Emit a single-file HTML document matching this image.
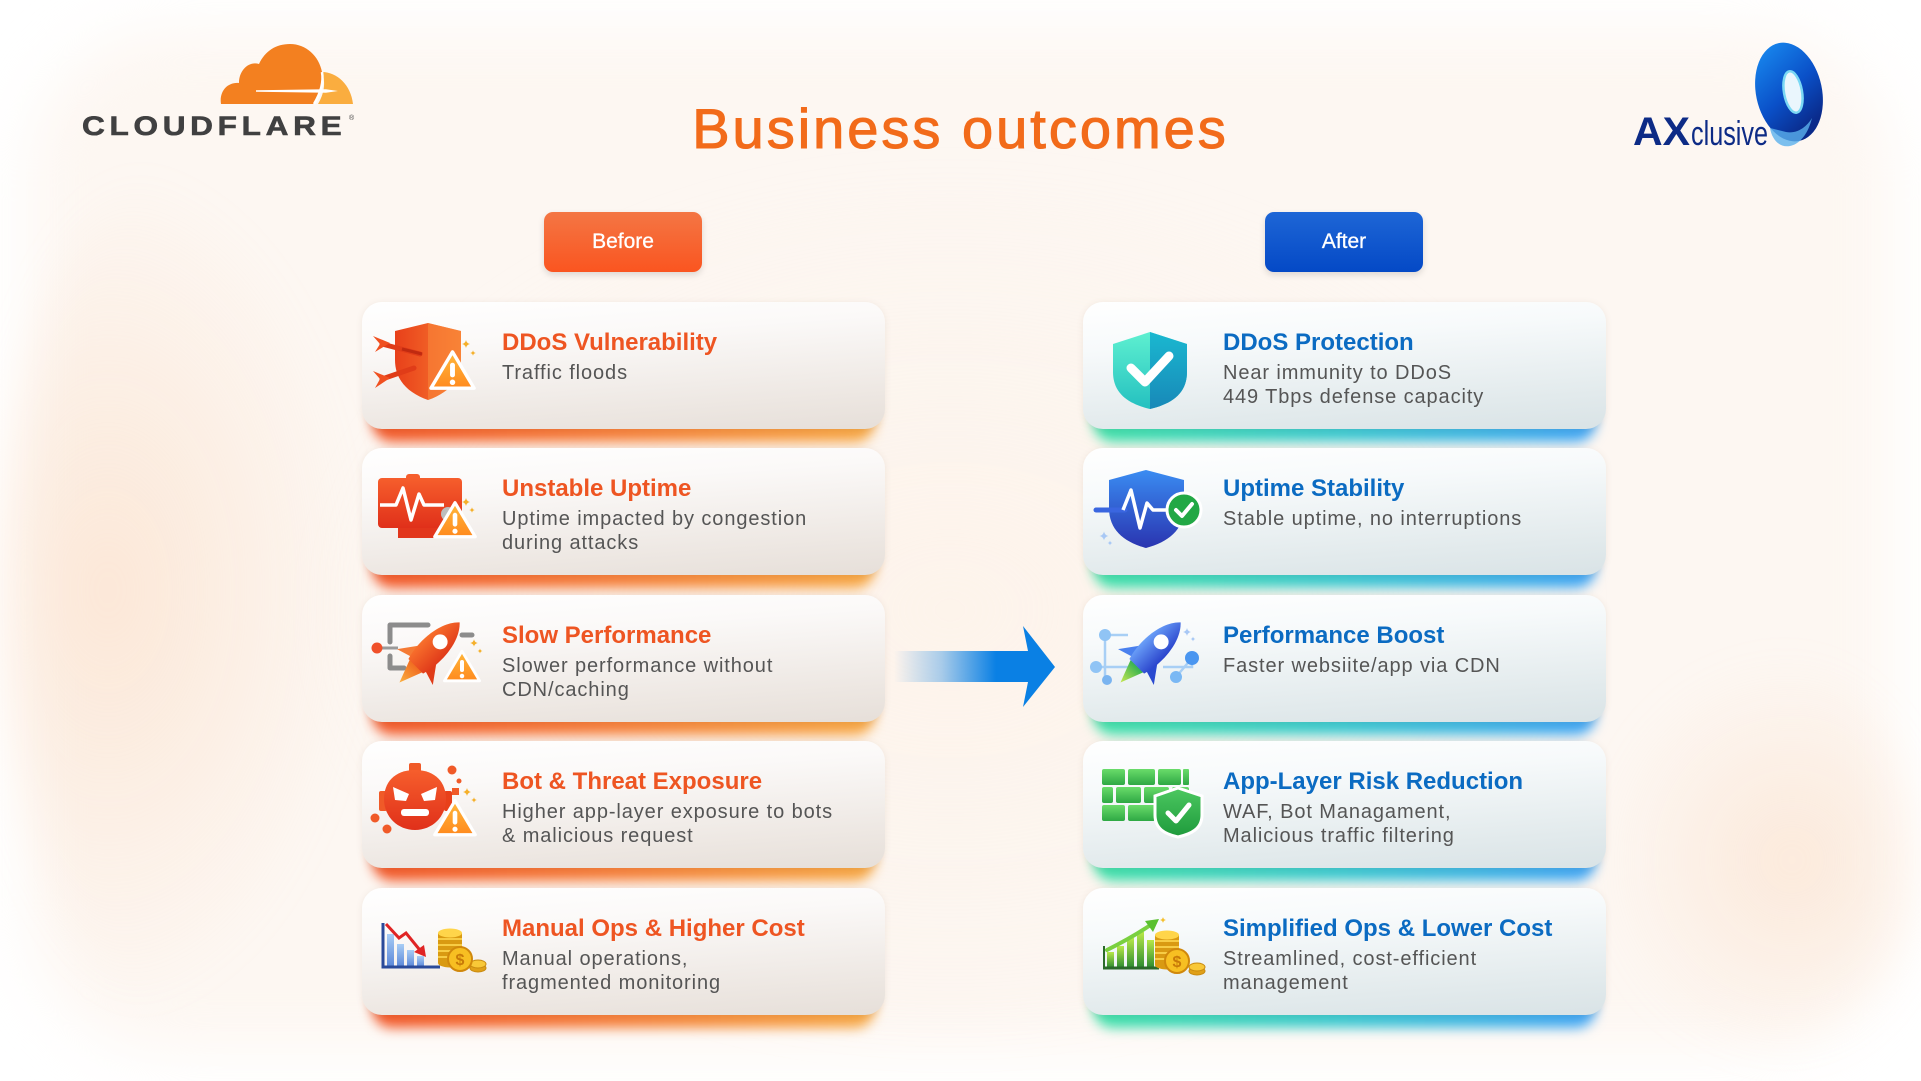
<!DOCTYPE html>
<html><head><meta charset="utf-8">
<style>
*{margin:0;padding:0;box-sizing:border-box}
html,body{width:1921px;height:1081px;overflow:hidden;background:#fff;font-family:"Liberation Sans",sans-serif;position:relative}
.bg{position:absolute;left:30px;top:30px;width:1861px;height:1021px;border-radius:140px;background:#fdf7f2;filter:blur(30px)}
.glowA{position:absolute;left:0px;top:170px;width:360px;height:840px;border-radius:50%;background:radial-gradient(ellipse at 30% 50%,rgba(250,212,182,0.45),rgba(250,215,190,0) 70%);filter:blur(22px)}
.glowB{position:absolute;left:1600px;top:660px;width:320px;height:400px;border-radius:50%;background:radial-gradient(ellipse at 60% 50%,rgba(250,214,186,0.42),rgba(250,215,190,0) 70%);filter:blur(22px)}
.glowC{position:absolute;left:300px;top:160px;width:1300px;height:900px;border-radius:50%;background:radial-gradient(ellipse at 50% 50%,rgba(253,240,228,0.5),rgba(253,240,228,0) 70%);filter:blur(20px)}
.title{position:absolute;left:0;top:101px;width:1921px;text-align:center;font-size:56px;line-height:56px;letter-spacing:3px;color:#f26b1a;-webkit-text-stroke:1.1px #f26b1a;white-space:nowrap}
.btn{position:absolute;top:212px;width:158px;height:60px;border-radius:9px;color:#fff;font-size:21px;line-height:60px;text-align:center;box-shadow:0 3px 7px rgba(0,0,0,0.13);-webkit-text-stroke:0.3px #fff}
.before{left:544px;background:linear-gradient(180deg,#f47644,#fa5520)}
.after{left:1265px;background:linear-gradient(180deg,#1e66d6,#0449c6)}
.card{position:absolute;width:523px;height:127px;border-radius:20px;box-shadow:0 1px 7px rgba(120,90,70,0.10)}
.L{left:362px;background:linear-gradient(176deg,#ffffff 0%,#fbf9f8 30%,#ede7e2 78%,#e6dfd9 100%)}
.R{left:1083px;background:linear-gradient(176deg,#ffffff 0%,#f7fafb 30%,#e2eaec 78%,#d9e3e6 100%)}
.gl{position:absolute;width:503px;height:40px;border-radius:20px;filter:blur(6px)}
.gL{left:372px;background:linear-gradient(90deg,#f2582a,#f5803a 50%,#f6a844)}
.gR{left:1093px;background:linear-gradient(90deg,#3fe0a8,#3cc8d0 50%,#40a4f4)}
.t{position:absolute;left:140px;top:29px;font-size:24px;line-height:24px;font-weight:bold;white-space:nowrap}
.L .t{color:#ee5522}
.R .t{color:#0b6bc2}
.d{position:absolute;left:140px;top:59px;font-size:20px;line-height:24px;letter-spacing:0.9px;color:#555;white-space:nowrap}
svg{position:absolute;left:0;top:0}
</style></head><body>
<div class="bg"></div>
<div class="glowC"></div>
<div class="glowA"></div>
<div class="glowB"></div>

<div class="title">Business outcomes</div>
<div class="btn before">Before</div>
<div class="btn after">After</div>

<div class="gl gL" style="top:402px"></div>
<div class="gl gL" style="top:548px"></div>
<div class="gl gL" style="top:695px"></div>
<div class="gl gL" style="top:841px"></div>
<div class="gl gL" style="top:988px"></div>
<div class="gl gR" style="top:402px"></div>
<div class="gl gR" style="top:548px"></div>
<div class="gl gR" style="top:695px"></div>
<div class="gl gR" style="top:841px"></div>
<div class="gl gR" style="top:988px"></div>

<div class="card L" style="top:302px"><div class="t">DDoS Vulnerability</div><div class="d">Traffic floods</div></div>
<div class="card L" style="top:448px"><div class="t">Unstable Uptime</div><div class="d">Uptime impacted by congestion<br>during attacks</div></div>
<div class="card L" style="top:595px"><div class="t">Slow Performance</div><div class="d">Slower performance without<br>CDN/caching</div></div>
<div class="card L" style="top:741px"><div class="t">Bot &amp; Threat Exposure</div><div class="d">Higher app-layer exposure to bots<br>&amp; malicious request</div></div>
<div class="card L" style="top:888px"><div class="t">Manual Ops &amp; Higher Cost</div><div class="d">Manual operations,<br>fragmented monitoring</div></div>

<div class="card R" style="top:302px"><div class="t">DDoS Protection</div><div class="d">Near immunity to DDoS<br>449 Tbps defense capacity</div></div>
<div class="card R" style="top:448px"><div class="t">Uptime Stability</div><div class="d">Stable uptime, no interruptions</div></div>
<div class="card R" style="top:595px"><div class="t">Performance Boost</div><div class="d">Faster websiite/app via CDN</div></div>
<div class="card R" style="top:741px"><div class="t">App-Layer Risk Reduction</div><div class="d">WAF, Bot Managament,<br>Malicious traffic filtering</div></div>
<div class="card R" style="top:888px"><div class="t">Simplified Ops &amp; Lower Cost</div><div class="d">Streamlined, cost-efficient<br>management</div></div>

<svg width="1921" height="1081" viewBox="0 0 1921 1081" xmlns="http://www.w3.org/2000/svg">
<defs>
<linearGradient id="gw" x1="0" y1="0" x2="0" y2="1"><stop offset="0" stop-color="#ffb83c"/><stop offset="1" stop-color="#ff8a1e"/></linearGradient>
<linearGradient id="gRS" x1="0" y1="0" x2="1" y2="0"><stop offset="0" stop-color="#e8401a"/><stop offset="1" stop-color="#f87a30"/></linearGradient>
<linearGradient id="gR2" x1="0" y1="0" x2="0" y2="1"><stop offset="0" stop-color="#f65e2c"/><stop offset="1" stop-color="#e0301a"/></linearGradient>
<linearGradient id="gRk" x1="0" y1="0" x2="1" y2="0"><stop offset="0" stop-color="#f8702c"/><stop offset="1" stop-color="#e03a1a"/></linearGradient>
<linearGradient id="gFl" x1="0" y1="0" x2="0" y2="1"><stop offset="0" stop-color="#f06a20"/><stop offset="1" stop-color="#fbb040"/></linearGradient>
<linearGradient id="gBB" x1="0" y1="0" x2="0" y2="1"><stop offset="0" stop-color="#a8cdf5"/><stop offset="1" stop-color="#5a86d8"/></linearGradient>
<linearGradient id="gTeal" x1="0" y1="0" x2="0" y2="1"><stop offset="0" stop-color="#5ef0d0"/><stop offset="1" stop-color="#24c0c0"/></linearGradient>
<linearGradient id="gTeal2" x1="0" y1="0" x2="0" y2="1"><stop offset="0" stop-color="#1ab8d0"/><stop offset="1" stop-color="#1888b8"/></linearGradient>
<linearGradient id="gBS" x1="0" y1="0" x2="0" y2="1"><stop offset="0" stop-color="#3a8cf2"/><stop offset="1" stop-color="#2a34b0"/></linearGradient>
<linearGradient id="gBRk" x1="0" y1="0" x2="1" y2="0"><stop offset="0" stop-color="#6aa0f8"/><stop offset="1" stop-color="#2a44cc"/></linearGradient>
<linearGradient id="gGFl" x1="0" y1="0" x2="0" y2="1"><stop offset="0" stop-color="#30b050"/><stop offset="1" stop-color="#c8e850"/></linearGradient>
<linearGradient id="gBr" x1="0" y1="0" x2="0" y2="1"><stop offset="0" stop-color="#6adc6a"/><stop offset="1" stop-color="#2ea844"/></linearGradient>
<linearGradient id="gGS" x1="0" y1="0" x2="0" y2="1"><stop offset="0" stop-color="#4cc860"/><stop offset="1" stop-color="#1e9a3c"/></linearGradient>
<linearGradient id="gGB" x1="0" y1="0" x2="0" y2="1"><stop offset="0" stop-color="#b8e848"/><stop offset="1" stop-color="#2a8a30"/></linearGradient>
<linearGradient id="gArr" x1="0" y1="0" x2="1" y2="0"><stop offset="0" stop-color="#0a80e4" stop-opacity="0"/><stop offset="0.35" stop-color="#0a80e4" stop-opacity="0.35"/><stop offset="0.75" stop-color="#0a80e4" stop-opacity="1"/><stop offset="1" stop-color="#0a80e4"/></linearGradient>
<linearGradient id="gAx" x1="0" y1="0" x2="0.4" y2="1"><stop offset="0" stop-color="#1a90f4"/><stop offset="0.6" stop-color="#0a50c8"/><stop offset="1" stop-color="#0a2a8a"/></linearGradient>
<g id="warn">
<path d="M25,4 L47,41 L3,41 Z" fill="url(#gw)" stroke="#fff" stroke-width="3.5" stroke-linejoin="round"/>
<rect x="22.5" y="15" width="5" height="15" rx="2.5" fill="#fff"/>
<circle cx="25" cy="35" r="2.8" fill="#fff"/>
</g>
<path id="spk" d="M0,-5 Q0.8,-0.8 5,0 Q0.8,0.8 0,5 Q-0.8,0.8 -5,0 Q-0.8,-0.8 0,-5Z"/>
</defs>

<!-- Cloudflare logo -->
<path d="M221,104 C219,92 227,82 239,83 C239,70 249,61 259,64 C265,51 276,44 290,44 C306,44 319,56 322,72 C324,82 320,94 314,104 Z" fill="#f38020"/>
<path d="M318,104 C324,94 326,83 322,72 C337,72 351,85 353,104 Z" fill="#faad3f"/>
<path d="M256,90.3 L326,89.2 L338,91 L326,92.8 L256,91.7 Z" fill="#fff"/>
<path d="M314,104 C320,94 324,83 322,72" fill="none" stroke="#fff" stroke-width="2.5"/>
<g transform="translate(82,0) scale(1.17,1)">
<text x="0" y="135" font-family="Liberation Sans, sans-serif" font-weight="bold" font-size="27" letter-spacing="4" fill="#404041" stroke="#404041" stroke-width="0.6">CLOUDFLARE</text>
</g>
<text x="349" y="120" font-family="Liberation Sans, sans-serif" font-size="7" fill="#404041">®</text>

<!-- AXclusive logo -->
<ellipse cx="1789" cy="92" rx="33" ry="50" transform="rotate(-12 1789 92)" fill="url(#gAx)"/>
<path d="M1770,128 C1772,140 1780,148 1790,146 C1800,144 1808,134 1812,118 C1806,128 1796,134 1786,132 Z" fill="#5ab0ec" opacity="0.8"/>
<ellipse cx="1793" cy="92" rx="9" ry="21" transform="rotate(-10 1793 92)" fill="#eaf6fd" stroke="#7ad8f4" stroke-width="2.5"/>
<text x="1633" y="145" font-family="Liberation Sans, sans-serif" font-weight="bold" font-size="40" textLength="57" lengthAdjust="spacingAndGlyphs" fill="#0d2b86">AX</text>
<text x="1691" y="145" font-family="Liberation Sans, sans-serif" font-size="34" textLength="77" lengthAdjust="spacingAndGlyphs" fill="#0d2b86">clusive</text>

<!-- Arrow -->
<rect x="894" y="651" width="136" height="31" fill="url(#gArr)"/>
<path d="M1023,626 L1055,667 L1023,707 L1028,682 L1028,651 Z" fill="#0a80e4"/>

<!-- L1 DDoS Vulnerability -->
<g transform="translate(362,302)">
<path d="M66,21 L99,29 L99,58 C99,78 86,91 66,98 C46,91 33,78 33,58 L33,29 Z" fill="url(#gRS)"/>
<path d="M66,21 L99,29 L99,58 C99,78 86,91 66,98 Z" fill="#fa8a3c" opacity="0.55"/>
<g stroke="#e03c18" stroke-width="5" stroke-linecap="round"><line x1="20" y1="42" x2="58" y2="52"/><line x1="20" y1="77" x2="52" y2="66"/></g>
<path d="M11,34 L28,41 L13,50 L18,42 Z" fill="#f05020"/>
<path d="M11,69 L28,76 L13,86 L18,77 Z" fill="#f05020"/>
<line x1="40" y1="47" x2="60" y2="52" stroke="#c02a10" stroke-width="3"/>
<use href="#warn" transform="translate(66,46) scale(0.98)"/>
<use href="#spk" transform="translate(104,42) scale(0.8)" fill="#f5b02a"/>
<use href="#spk" transform="translate(111,51) scale(0.55)" fill="#f5b02a"/>
</g>

<!-- L2 Unstable Uptime -->
<g transform="translate(362,448)">
<rect x="44" y="26" width="14" height="8" rx="3" fill="#f65e2c"/>
<rect x="16" y="30" width="84" height="50" rx="4" fill="url(#gR2)"/>
<rect x="36" y="80" width="44" height="10" fill="#e2361c"/>
<polyline points="18,57 34,57 41,40 49,72 57,46 62,57 82,57" fill="none" stroke="#fff" stroke-width="3.5" stroke-linejoin="round"/>
<circle cx="86" cy="66" r="7" fill="#bdbdbd"/>
<use href="#warn" transform="translate(70,51) scale(0.92)"/>
<use href="#spk" transform="translate(104,54) scale(0.8)" fill="#f5b02a"/>
<use href="#spk" transform="translate(110,62) scale(0.55)" fill="#f5b02a"/>
</g>

<!-- L3 Slow Performance -->
<g transform="translate(362,595)">
<g fill="none" stroke="#8c8c8c" stroke-width="5" stroke-linecap="round" stroke-linejoin="round"><path d="M66,30 L28,30 L28,47"/><path d="M28,61 L28,73 L42,73"/><path d="M100,40 L110,40"/></g>
<line x1="15" y1="53" x2="36" y2="53" stroke="#9a9a9a" stroke-width="3"/>
<circle cx="15" cy="53" r="5.5" fill="#f0502a"/>
<g transform="translate(70,55) rotate(45) scale(1.15)">
<path d="M-8,19 L0,40 L8,19 Z" fill="url(#gFl)"/>
<path d="M-9,3 L-22,21 L-9,17 Z" fill="#f57a34"/>
<path d="M9,3 L22,21 L9,17 Z" fill="#e03c18"/>
<path d="M0,-34 C13,-22 14,4 9,20 L-9,20 C-14,4 -13,-22 0,-34 Z" fill="url(#gRk)"/>
<circle cx="0" cy="-10" r="6.5" fill="#fff"/>
</g>
<use href="#warn" transform="translate(80,53) scale(0.8)"/>
<use href="#spk" transform="translate(112,48) scale(0.75)" fill="#f5b02a"/>
<use href="#spk" transform="translate(118,56) scale(0.5)" fill="#f5b02a"/>
</g>

<!-- L4 Bot & Threat -->
<g transform="translate(362,741)">
<rect x="47" y="22" width="12" height="10" rx="2" fill="#f05a28"/>
<rect x="17" y="50" width="8" height="20" rx="2" fill="#f05a28"/>
<rect x="82" y="50" width="8" height="20" rx="2" fill="#e8401a"/>
<path d="M53,29 C74,29 84,42 84,58 C84,76 70,89 53,89 C36,89 22,76 22,58 C22,42 32,29 53,29Z" fill="url(#gR2)"/>
<path d="M31,46 L47,53 L44,60 L33,59 Z" fill="#fff"/>
<path d="M75,46 L59,53 L62,60 L73,59 Z" fill="#fff"/>
<rect x="39" y="68" width="28" height="7" rx="3" fill="#fff"/>
<circle cx="13" cy="77" r="4.5" fill="#f05a28"/>
<circle cx="25" cy="88" r="4.5" fill="#f05a28"/>
<circle cx="90" cy="29" r="4.5" fill="#f05a28"/>
<circle cx="97" cy="40" r="2.5" fill="#f05a28"/>
<rect x="90" y="47" width="7" height="7" fill="#f05a28"/>
<use href="#warn" transform="translate(70,56) scale(0.92)"/>
<use href="#spk" transform="translate(105,51) scale(0.8)" fill="#f5b02a"/>
<use href="#spk" transform="translate(112,59) scale(0.55)" fill="#f5b02a"/>
</g>

<!-- L5 Manual Ops -->
<g transform="translate(362,888)">
<g fill="url(#gBB)"><rect x="25" y="46" width="7" height="33"/><rect x="35" y="56" width="7" height="23"/><rect x="45" y="62" width="7" height="17"/><rect x="55" y="68" width="7" height="11"/></g>
<path d="M21,35 L21,79 L78,79" fill="none" stroke="#2a4a9a" stroke-width="3"/>
<polyline points="24,36 37,50 44,45 57,61" fill="none" stroke="#e02424" stroke-width="3"/>
<path d="M52,64 L64,69 L62,57 Z" fill="#e02424"/>
<g transform="translate(76,39)">
<rect x="0" y="6" width="24" height="30" fill="#d99a12"/>
<g stroke="#f7cc45" stroke-width="2"><line x1="0" y1="12" x2="24" y2="12"/><line x1="0" y1="18" x2="24" y2="18"/><line x1="0" y1="24" x2="24" y2="24"/><line x1="0" y1="30" x2="24" y2="30"/></g>
<ellipse cx="12" cy="36" rx="12" ry="4.5" fill="#d99a12"/>
<ellipse cx="12" cy="6" rx="12" ry="4.5" fill="#ffd54a"/>
<ellipse cx="40" cy="41" rx="8" ry="4" fill="#e0a018" stroke="#c88a10" stroke-width="1"/>
<ellipse cx="40" cy="37" rx="8" ry="4" fill="#f8c838" stroke="#c88a10" stroke-width="1"/>
<circle cx="22" cy="32" r="12" fill="#f7bf22" stroke="#d0880c" stroke-width="2"/>
<text x="22" y="38" font-family="Liberation Sans, sans-serif" font-size="16" font-weight="bold" fill="#c87a08" text-anchor="middle">$</text>
</g>
</g>

<!-- R1 DDoS Protection -->
<g transform="translate(1083,302)">
<path d="M67,30 L104,42 L104,70 C104,92 88,102 67,107 C46,102 30,92 30,70 L30,42 Z" fill="url(#gTeal)"/>
<path d="M67,30 L104,42 L104,70 C104,92 88,102 67,107 Z" fill="url(#gTeal2)"/>
<polyline points="48,66 62,80 86,54" fill="none" stroke="#fff" stroke-width="9" stroke-linecap="round" stroke-linejoin="round"/>
</g>

<!-- R2 Uptime Stability -->
<g transform="translate(1083,448)">
<path d="M63,22 L101,32 L101,60 C101,82 85,94 63,100 C41,94 26,82 26,60 L26,32 Z" fill="url(#gBS)"/>
<line x1="13" y1="62" x2="42" y2="62" stroke="#3a66e0" stroke-width="5" stroke-linecap="round"/>
<polyline points="40,62 48,42 57,80 64,55 70,62 86,62" fill="none" stroke="#fff" stroke-width="3.5" stroke-linejoin="round"/>
<circle cx="101" cy="62" r="17" fill="#22a845" stroke="#fff" stroke-width="3"/>
<polyline points="93,62 99,68 109,56" fill="none" stroke="#fff" stroke-width="4" stroke-linecap="round" stroke-linejoin="round"/>
<use href="#spk" transform="translate(21,88) scale(0.9)" fill="#a8c8f5"/>
<use href="#spk" transform="translate(27,95) scale(0.5)" fill="#a8c8f5"/>
</g>

<!-- R3 Performance Boost -->
<g transform="translate(1083,595)">
<g stroke="#a8cff5" stroke-width="2.5" fill="none"><path d="M22,40 L22,85"/><path d="M13,72 L58,72"/><path d="M22,40 L45,40"/><path d="M80,72 L109,72 L109,63"/><path d="M93,82 L109,63"/></g>
<circle cx="22" cy="40" r="6" fill="#90c4f5"/>
<circle cx="13" cy="72" r="6" fill="#90c4f5"/>
<circle cx="24" cy="85" r="5" fill="#7ab4f0"/>
<circle cx="109" cy="63" r="7" fill="#4a96f0"/>
<circle cx="93" cy="82" r="6" fill="#7ab8f4"/>
<g transform="translate(70,55) rotate(45) scale(1.15)">
<path d="M-8,19 L0,40 L8,19 Z" fill="url(#gGFl)"/>
<path d="M-9,3 L-22,21 L-9,17 Z" fill="#4a80ee"/>
<path d="M9,3 L22,21 L9,17 Z" fill="#2a4ad0"/>
<path d="M0,-34 C13,-22 14,4 9,20 L-9,20 C-14,4 -13,-22 0,-34 Z" fill="url(#gBRk)"/>
<circle cx="0" cy="-10" r="6.5" fill="#fff"/>
</g>
<use href="#spk" transform="translate(104,37) scale(0.8)" fill="#a8c8f5"/>
<use href="#spk" transform="translate(110,44) scale(0.5)" fill="#a8c8f5"/>
</g>

<!-- R4 App-Layer -->
<g transform="translate(1083,741)" fill="url(#gBr)">
<rect x="19" y="28" width="23" height="16" rx="2"/><rect x="45" y="28" width="27" height="16" rx="2"/><rect x="75" y="28" width="23" height="16" rx="2"/><rect x="100" y="28" width="6" height="16" rx="1"/>
<rect x="19" y="46" width="11" height="16" rx="2"/><rect x="33" y="46" width="25" height="16" rx="2"/><rect x="61" y="46" width="25" height="16" rx="2"/><rect x="89" y="46" width="17" height="16" rx="2"/>
<rect x="19" y="64" width="23" height="16" rx="2"/><rect x="45" y="64" width="27" height="16" rx="2"/><rect x="75" y="64" width="23" height="16" rx="2"/>
<path d="M95,47 L119,55 L119,74 C119,88 108,93 95,96 C82,93 72,88 72,74 L72,55 Z" fill="url(#gGS)" stroke="#fff" stroke-width="3"/>
<polyline points="85,72 93,80 106,64" fill="none" stroke="#fff" stroke-width="5" stroke-linecap="round" stroke-linejoin="round"/>
</g>

<!-- R5 Simplified Ops -->
<g transform="translate(1083,888)">
<g fill="url(#gGB)"><rect x="24" y="64" width="7" height="16"/><rect x="34" y="58" width="7" height="22"/><rect x="44" y="50" width="7" height="30"/><rect x="54" y="44" width="7" height="36"/><rect x="64" y="52" width="7" height="28"/></g>
<line x1="20" y1="80" x2="76" y2="80" stroke="#2a6a2a" stroke-width="3"/>
<line x1="21" y1="58" x2="21" y2="80" stroke="#2a6a2a" stroke-width="2"/>
<path d="M24,62 C40,54 54,46 66,38" fill="none" stroke="#7ad040" stroke-width="4" stroke-linecap="round"/>
<path d="M62,33 L76,31 L70,44 Z" fill="#5ac030"/>
<use href="#spk" transform="translate(80,32) scale(0.6)" fill="#f5c030"/>
<g transform="translate(72,41)">
<rect x="0" y="6" width="24" height="30" fill="#d99a12"/>
<g stroke="#f7cc45" stroke-width="2"><line x1="0" y1="12" x2="24" y2="12"/><line x1="0" y1="18" x2="24" y2="18"/><line x1="0" y1="24" x2="24" y2="24"/><line x1="0" y1="30" x2="24" y2="30"/></g>
<ellipse cx="12" cy="36" rx="12" ry="4.5" fill="#d99a12"/>
<ellipse cx="12" cy="6" rx="12" ry="4.5" fill="#ffd54a"/>
<ellipse cx="42" cy="42" rx="8" ry="4" fill="#e0a018" stroke="#c88a10" stroke-width="1"/>
<ellipse cx="42" cy="38" rx="8" ry="4" fill="#f8c838" stroke="#c88a10" stroke-width="1"/>
<circle cx="22" cy="32" r="12" fill="#f7bf22" stroke="#d0880c" stroke-width="2"/>
<text x="22" y="38" font-family="Liberation Sans, sans-serif" font-size="16" font-weight="bold" fill="#c87a08" text-anchor="middle">$</text>
</g>
</g>
</svg>
</body></html>
